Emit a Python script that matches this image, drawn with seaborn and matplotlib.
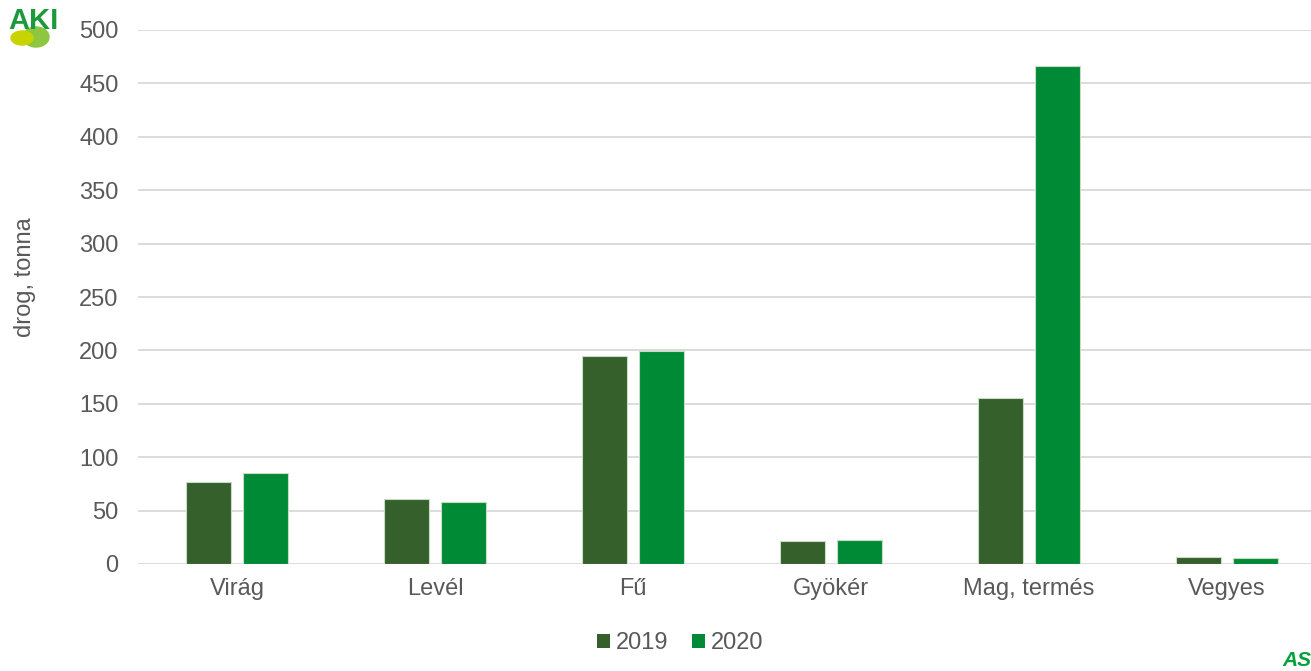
"""
Gyógynövény drog mennyiség növényi részenként, 2019-2020
"""

import pandas as pd
import matplotlib.pyplot as plt
import seaborn as sns
from matplotlib.patches import Ellipse

categories = ['Virág', 'Levél', 'Fű', 'Gyökér', 'Mag, termés', 'Vegyes']
years = ['2019', '2020']
values_2019 = [77.2, 60.9, 194.4, 21.9, 155.0, 6.3]
values_2020 = [85.0, 57.8, 199.7, 22.8, 466.5, 5.4]
y_ticks = [0, 50, 100, 150, 200, 250, 300, 350, 400, 450, 500]

colors = {'2019': '#36602b', '2020': '#008a36'}
text_color = '#595959'
fs = 17

df = pd.DataFrame({
    'kategoria': categories * 2,
    'ev': [years[0]] * len(categories) + [years[1]] * len(categories),
    'ertek': values_2019 + values_2020,
})

sns.set_style('white')
plt.rcParams['font.family'] = ['Liberation Sans', 'DejaVu Sans']

W, H = 1311, 671
fig = plt.figure(figsize=(W / 100, H / 100), dpi=100)
ax = fig.add_axes([138 / W, (H - 564) / H, 1188 / W, 534 / H])

sns.barplot(data=df, x='kategoria', y='ertek', hue='ev', palette=colors,
            saturation=1, width=0.571, gap=0.21, edgecolor='#c8dcc8',
            linewidth=0.8, ax=ax, zorder=3)

ax.set_ylim(0, 500)
ax.set_yticks(y_ticks)
ax.set_yticklabels([str(t) for t in y_ticks])
ax.yaxis.grid(True, color='#d9d9d9', linewidth=1.3, zorder=0)
ax.set_axisbelow(True)
for s in ax.spines.values():
    s.set_visible(False)
ax.tick_params(axis='both', length=0, labelsize=fs, colors=text_color)
ax.tick_params(axis='y', pad=14)
ax.tick_params(axis='x', pad=10)
ax.set_xlabel('')
ax.set_ylabel('')
fig.text(25 / W, (H - 277) / H, 'drog, tonna', fontsize=fs, color=text_color,
         rotation=90, ha='center', va='center')

leg = ax.legend(loc='center', bbox_to_anchor=(680 / W, (H - 643) / H),
                bbox_transform=fig.transFigure, ncol=2, frameon=False,
                fontsize=fs, handlelength=0.55, handleheight=0.55,
                handletextpad=0.25, columnspacing=1.0)
for t in leg.get_texts():
    t.set_color(text_color)
for h in leg.legend_handles:
    h.set_edgecolor('none')

# logos
fig.patches.append(Ellipse((36 / W, (H - 37) / H), 26 / W, 20 / H,
                           transform=fig.transFigure, color='#8dc63f', zorder=1))
fig.patches.append(Ellipse((22 / W, (H - 38) / H), 22 / W, 14 / H,
                           transform=fig.transFigure, color='#c8d400', zorder=2))
fig.text(33 / W, (H - 21) / H, 'AKI', fontsize=21, fontweight='bold',
         color='#1a9a3a', ha='center', va='center', zorder=3)
fig.text(1297 / W, (H - 660) / H, 'AS', fontsize=15, fontweight='bold',
         fontstyle='italic', color='#00a13a', ha='center', va='center')

fig.savefig('out.png', dpi=100)
